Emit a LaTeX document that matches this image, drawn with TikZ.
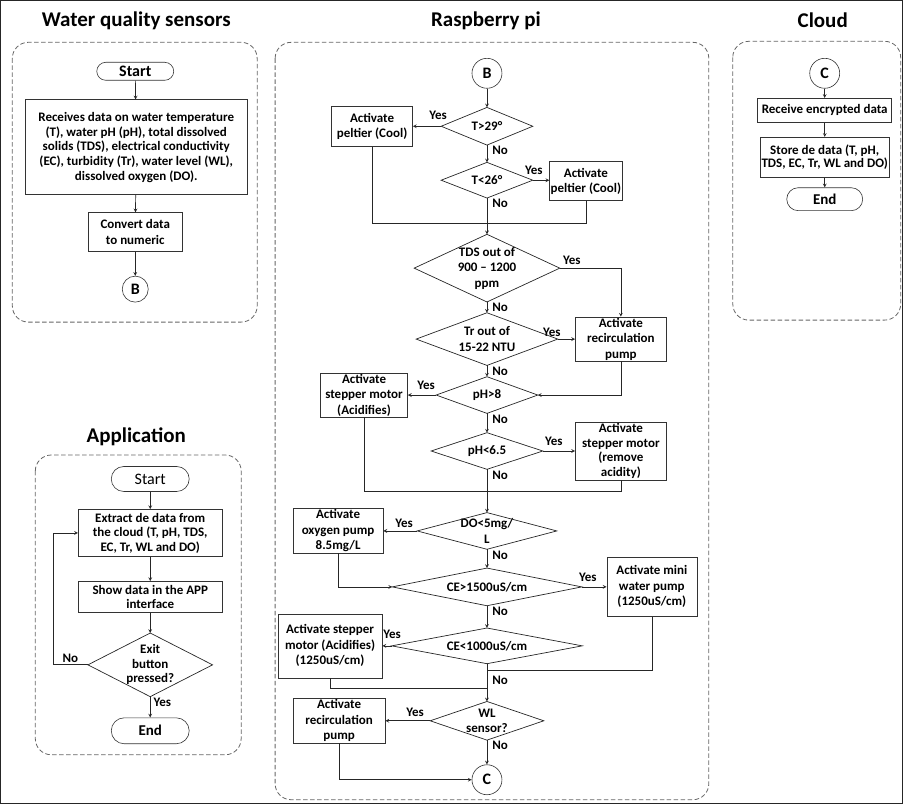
\documentclass[tikz,border=0pt]{standalone}
\usepackage{fontspec}
\setmainfont{Carlito}
\usetikzlibrary{arrows,positioning,shapes.geometric}

\begin{document}
\begin{tikzpicture}[
  x=1pt, y=-1pt,
  font=\fontsize{13}{15.5}\selectfont\bfseries,
  >=stealth,
  panel/.style={draw=black!60, dash pattern=on 4.5pt off 2.5pt, line width=0.8pt, rounded corners=16pt},
  title/.style={font=\fontsize{21}{24}\selectfont\bfseries},
  proc/.style 2 args={rectangle, draw=black!80, line width=0.6pt, align=center, inner sep=1pt, minimum width=#1, minimum height=#2},
  term/.style 2 args={proc={#1}{#2}, rounded corners=#2*0.5, font=\fontsize{15}{17}\selectfont\bfseries},
  dec/.style 2 args={rectangle, inner sep=0pt, align=center, minimum width=#1, minimum height=#2},
  conn/.style={circle, draw=black!80, line width=0.6pt, inner sep=0pt, minimum size=#1, font=\fontsize{16}{18}\selectfont\bfseries},
  lbl/.style={inner sep=1pt, font=\fontsize{13}{15}\selectfont\bfseries},
  every path/.style={draw=black!85, line width=0.7pt}
]
\useasboundingbox (0,0) rectangle (903,804);

% water quality sensors
\node[title] (tw) at (136,20) {Water quality sensors};
\draw[panel] (12,42) rectangle (257,322);
\node[term={77}{18}, font=\fontsize{16}{18}\selectfont\bfseries] (st1) at (135,71) {Start};
\node[proc={223}{95}, font=\fontsize{13}{14.7}\selectfont\bfseries] (rcv) at (136,147) {Receives data on water temperature\\(T), water pH (pH), total dissolved\\solids (TDS), electrical conductivity\\(EC), turbidity (Tr), water level (WL),\\dissolved oxygen (DO).};
\node[proc={94}{39}] (cnv) at (135,232) {Convert data\\to numeric};
\node[conn=26] (b1) at (135,289) {B};
\draw[->] (st1) -- (rcv);
\draw[->] (rcv) -- (cnv);
\draw[->] (cnv) -- (b1);

% raspberry pi
\node[title] (trp) at (486,20) {Raspberry pi};
\draw[panel] (275,42) rectangle (709,800);
\node[conn=30] (b2) at (487,73) {B};
\node[dec={91}{37}] (t29) at (487,126) {T>29°};
\node[proc={81}{40}] (pel1) at (372,126) {Activate\\peltier (Cool)};
\node[dec={91}{35}] (t26) at (487,180) {T<26°};
\node[proc={72}{39}] (pel2) at (586,181) {Activate\\peltier (Cool)};
\node[dec={145}{67}] (tds) at (487,268) {TDS out of\\900 -- 1200\\ppm};
\node[dec={141}{52}] (tur) at (487,339) {Tr out of\\15-22 NTU};
\node[proc={91}{43}] (rec1) at (621,339) {Activate\\recirculation\\pump};
\node[dec={101}{36}] (ph8) at (487,395) {pH>8};
\node[proc={87}{43}] (acd1) at (364,395) {Activate\\stepper motor\\(Acidifies)};
\node[dec={111}{36}] (ph65) at (487,451) {pH<6.5};
\node[proc={91}{58}, font=\fontsize{13}{14.5}\selectfont\bfseries] (rma) at (621,451) {Activate\\stepper motor\\(remove\\acidity)};
\node[dec={139}{36}] (dox) at (487,531) {DO<5mg/\\L};
\node[proc={90}{41}] (oxy) at (338,531) {Activate\\oxygen pump\\8.5mg/L};
\node[dec={189}{37}] (ce15) at (487,587) {CE>1500uS/cm};
\node[proc={90}{59}] (mwp) at (652,587) {Activate mini\\water pump\\(1250uS/cm)};
\node[dec={190}{35}] (ce10) at (487,646) {CE<1000uS/cm};
\node[proc={104}{64}] (acd2) at (330,646) {Activate stepper\\motor (Acidifies)\\(1250uS/cm)};
\node[dec={113}{38}] (wl) at (487,721) {WL\\sensor?};
\node[proc={92}{43}] (rec2) at (339,721) {Activate\\recirculation\\pump};
\node[conn=30] (c1) at (487,780) {C};

\coordinate (m1) at (487,223);
\coordinate (m2) at (487,491);
\coordinate (m3) at (487,671);
\coordinate (m4) at (487,689);

\draw[->] (b2) -- (t29.north);
\draw[->] (t29.west) -- (pel1.east);
\draw[->] (t29.south) -- (t26.north);
\draw[->] (t26.east) -- (pel2.west |- t26.east);
\draw[->] (t26.south) -- (tds.north);
\draw (pel1.south) |- (m1);
\draw (pel2.south) |- (m1);
\draw[->] (tds.east) -| (rec1.north);
\draw[->] (tds.south) -- (tur.north);
\draw[->] (tur.east) -- (rec1.west);
\draw[->] (tur.south) -- (ph8.north);
\draw[->] (rec1.south) |- (ph8.east);
\draw[->] (ph8.west) -- (acd1.east);
\draw[->] (ph8.south) -- (ph65.north);
\draw[->] (ph65.east) -- (rma.west);
\draw[->] (ph65.south) -- (dox.north);
\draw (acd1.south) |- (m2);
\draw (rma.south) |- (m2);
\draw[->] (dox.west) -- (oxy.east);
\draw[->] (dox.south) -- (ce15.north);
\draw[->] (oxy.south) |- (ce15.west);
\draw[->] (ce15.east) -- (mwp.west);
\draw[->] (ce15.south) -- (ce10.north);
\draw[->] (ce10.west) -- (acd2.east);
\draw[->] (ce10.south) -- (wl.north);
\draw (mwp.south) |- (m3);
\draw (acd2.south) |- (m4);
\draw[->] (wl.west) -- (rec2.east);
\draw[->] (wl.south) -- (c1.north);
\draw[->] (rec2.south) |- (c1.west);

% yes / no
\node[lbl] (y1) at (438,115) {Yes};
\node[lbl] (y2) at (534,170) {Yes};
\node[lbl] (y3) at (572,260) {Yes};
\node[lbl] (y4) at (552,332) {Yes};
\node[lbl] (y5) at (426,385) {Yes};
\node[lbl] (y6) at (554,441) {Yes};
\node[lbl] (y7) at (404,523) {Yes};
\node[lbl] (y8) at (588,577) {Yes};
\node[lbl] (y9) at (392,634) {Yes};
\node[lbl] (y10) at (415,713) {Yes};
\node[lbl, below right=0pt and 4pt of t29.south] (n1) {No};
\node[lbl, below right=0pt and 4pt of t26.south] (n2) {No};
\node[lbl, below right=0pt and 4pt of tds.south] (n3) {No};
\node[lbl, below right=0pt and 4pt of tur.south] (n4) {No};
\node[lbl, below right=0pt and 4pt of ph8.south] (n5) {No};
\node[lbl, below right=0pt and 4pt of ph65.south] (n6) {No};
\node[lbl, below right=0pt and 4pt of dox.south] (n7) {No};
\node[lbl, below right=0pt and 4pt of ce15.south] (n8) {No};
\node[lbl, below right=4pt and 4pt of m3] (n9) {No};
\node[lbl, below right=0pt and 4pt of wl.south] (n10) {No};

% cloud
\node[title] (tc) at (823,20) {Cloud};
\draw[panel] (733,41) rectangle (901,320);
\node[conn=30] (c2) at (825,73) {C};
\node[proc={134}{24}] (enc) at (825,110) {Receive encrypted data};
\node[proc={128}{40}, font=\fontsize{13}{13.5}\selectfont\bfseries] (sto) at (825,157) {Store de data (T, pH,\\TDS, EC, Tr, WL and DO)};
\node[term={76}{23}] (end1) at (825,199) {End};
\draw[->] (c2) -- (enc);
\draw[->] (enc) -- (sto);
\draw[->] (sto) -- (end1);

% application
\node[title] (ta) at (136,437) {Application};
\draw[panel] (35,455) rectangle (241,755);
\node[term={78}{25}, font=\fontsize{16}{18}\selectfont\mdseries] (st2) at (150,479) {Start};
\node[proc={144}{47}, font=\fontsize{13}{14.5}\selectfont\bfseries] (ext) at (150,533) {Extract de data from\\the cloud (T, pH, TDS,\\EC, Tr, WL and DO)};
\node[proc={144}{31}, font=\fontsize{13}{14.5}\selectfont\bfseries] (shw) at (150,597) {Show data in the APP\\interface};
\node[dec={124}{63}, font=\fontsize{13}{14.5}\selectfont\bfseries] (exi) at (150,665) {Exit\\button\\pressed?};
\node[term={78}{26}] (end2) at (150,731) {End};
\coordinate (lp) at (53,665);
\draw[->] (st2) -- (ext);
\draw[->] (ext) -- (shw);
\draw[->] (shw) -- (exi.north);
\draw[->] (exi.south) -- (end2);
\draw[->] (exi.west) -- (lp) |- (ext.west);
\node[lbl] (n11) at (70,658) {No};
\node[lbl, below right=0pt and 2pt of exi.south] (y11) {Yes};

% decision outlines
\foreach \d in {t29,t26,tds,tur,ph8,ph65,dox,ce15,ce10,wl,exi}
  \draw (\d.north) -- (\d.east) -- (\d.south) -- (\d.west) -- cycle;
\end{tikzpicture}
\end{document}
